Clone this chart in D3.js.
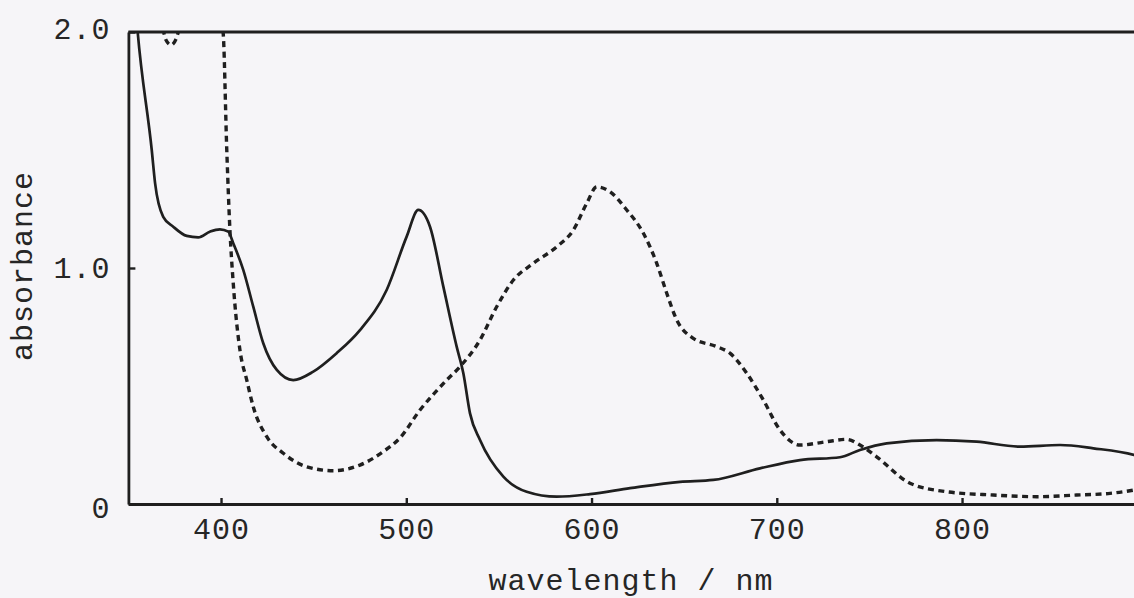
<!DOCTYPE html>
<html>
<head>
<meta charset="utf-8">
<script src="https://cdn.jsdelivr.net/npm/d3@7"></script>
<style>
  html, body { margin: 0; padding: 0; background: #f6f5f8; }
  svg { display: block; }
  text { font-family: "Liberation Mono", "Courier New", monospace; fill: #262626; }
</style>
</head>
<body>
<svg id="chart" width="1134" height="598"></svg>
<script>
// Absorption spectra: solid and dashed traces (wavelength in nm, absorbance)
const solidWavelength = [352, 355, 362.6, 364.4, 368.8, 374.2, 381.5, 387.7, 394, 399.4, 403.9, 406.6, 412, 417.4, 422.8, 430.1, 439, 449.8, 462.4, 475, 489.4, 500.2, 506.5, 512.8, 520, 527.2, 530.8, 534.4, 539.8, 552.4, 565, 581.2, 599.2, 620.8, 647.8, 665.7, 690.9, 712.5, 734.1, 744.9, 759.3, 786.3, 807.9, 831.3, 852.9, 870.9, 892.8, 900];
const solidAbsorbance = [2.3, 2.0, 1.50, 1.36, 1.217, 1.175, 1.136, 1.130, 1.154, 1.164, 1.154, 1.105, 0.992, 0.836, 0.681, 0.568, 0.525, 0.561, 0.639, 0.737, 0.907, 1.133, 1.246, 1.175, 0.921, 0.667, 0.554, 0.384, 0.271, 0.116, 0.052, 0.031, 0.042, 0.067, 0.094, 0.102, 0.151, 0.186, 0.198, 0.229, 0.257, 0.271, 0.264, 0.243, 0.250, 0.236, 0.208, 0.19];

const dashedWavelength = [366, 368.7, 370.3, 373, 375.7, 377.3, 380, 398, 401.1, 403.1, 404.8, 406.6, 410.2, 413.9, 417.4, 424.7, 433.6, 446.2, 460.6, 475, 487.6, 496.6, 507.4, 521.8, 529, 539.8, 548.8, 557.8, 568.6, 581.2, 590.2, 597.4, 602.8, 610, 619, 628, 635.2, 640.6, 646, 654.9, 667.6, 674.7, 683.8, 692.7, 701.7, 712.5, 726.9, 737.7, 744.9, 753.9, 771.9, 791.7, 816.9, 840.3, 861.9, 879.9, 892.8, 900];
const dashedAbsorbance = [2.1, 2.01, 1.966, 1.945, 1.97, 2.01, 2.1, 2.1, 2.0, 1.50, 1.161, 0.935, 0.653, 0.525, 0.412, 0.285, 0.215, 0.158, 0.141, 0.165, 0.222, 0.28, 0.398, 0.525, 0.582, 0.695, 0.836, 0.949, 1.02, 1.09, 1.161, 1.274, 1.344, 1.323, 1.246, 1.147, 1.02, 0.893, 0.78, 0.702, 0.667, 0.639, 0.554, 0.441, 0.314, 0.25, 0.264, 0.274, 0.25, 0.20, 0.088, 0.052, 0.038, 0.031, 0.038, 0.045, 0.059, 0.07];

const xTicks = [400, 500, 600, 700, 800];
const yTicks = [0, 1, 2];
const yTickLabels = ["0", "1.0", "2.0"];

const svg = d3.select("#chart");
const W = 1134, H = 598;
const margin = { left: 128.4, top: 32, bottom: 94 };
const plotRight = 1147.3;

const x = d3.scaleLinear().domain([350, 900]).range([margin.left, plotRight]);
const y = d3.scaleLinear().domain([0, 2]).range([H - margin.bottom, margin.top]);

const ink = "#1f1f1f";

svg.append("defs").append("clipPath").attr("id", "plotArea")
  .append("rect")
  .attr("x", x(350)).attr("y", y(2))
  .attr("width", x(900) - x(350)).attr("height", y(0) - y(2));

// Spectra
const line = d3.line()
  .x(d => x(d[0]))
  .y(d => y(d[1]))
  .curve(d3.curveMonotoneX);

const solid = solidWavelength.map((w, i) => [w, solidAbsorbance[i]]);
const dashed = dashedWavelength.map((w, i) => [w, dashedAbsorbance[i]]);

const traces = svg.append("g").attr("clip-path", "url(#plotArea)");
traces.append("path")
  .datum(solid)
  .attr("d", line)
  .attr("fill", "none")
  .attr("stroke", ink)
  .attr("stroke-width", 2.7)
  .attr("stroke-linejoin", "round");
traces.append("path")
  .datum(dashed)
  .attr("d", line)
  .attr("fill", "none")
  .attr("stroke", ink)
  .attr("stroke-width", 3.4)
  .attr("stroke-dasharray", "6,4.5");

// Axes
const fontSize = 30;
const xAxis = d3.axisBottom(x)
  .tickValues(xTicks)
  .tickFormat(d3.format("d"))
  .tickSizeInner(-6)
  .tickSizeOuter(0)
  .tickPadding(14);

const gx = svg.append("g")
  .attr("transform", `translate(0,${y(0)})`)
  .call(xAxis);

const yAxis = d3.axisLeft(y)
  .tickValues(yTicks)
  .tickFormat((d, i) => yTickLabels[i])
  .tickSizeInner(-7)
  .tickSizeOuter(0)
  .tickPadding(18);

const gy = svg.append("g")
  .attr("transform", `translate(${x(350)},0)`)
  .call(yAxis);

[gx, gy].forEach(g => {
  g.select(".domain").attr("stroke", ink).attr("stroke-width", 2.8);
  g.selectAll(".tick line").attr("stroke", ink).attr("stroke-width", 2.4);
  g.selectAll(".tick text")
    .attr("font-family", "Liberation Mono, Courier New, monospace")
    .attr("font-size", fontSize)
    .attr("letter-spacing", 1)
    .attr("fill", "#262626");
});
gy.selectAll(".tick text").filter(d => d === 0).attr("dy", "0.45em");
gy.selectAll(".tick text").filter(d => d === 2).attr("dy", "0.22em");

// Top frame line
svg.append("line")
  .attr("x1", x(350)).attr("x2", x(900))
  .attr("y1", y(2)).attr("y2", y(2))
  .attr("stroke", ink).attr("stroke-width", 2.8);

// Axis titles
svg.append("text")
  .attr("x", 631).attr("y", 590)
  .attr("text-anchor", "middle")
  .attr("font-size", fontSize)
  .attr("letter-spacing", 1)
  .text("wavelength / nm");

svg.append("text")
  .attr("transform", "translate(32,266) rotate(-90)")
  .attr("text-anchor", "middle")
  .attr("font-size", fontSize)
  .attr("letter-spacing", 1)
  .text("absorbance");
</script>
</body>
</html>
